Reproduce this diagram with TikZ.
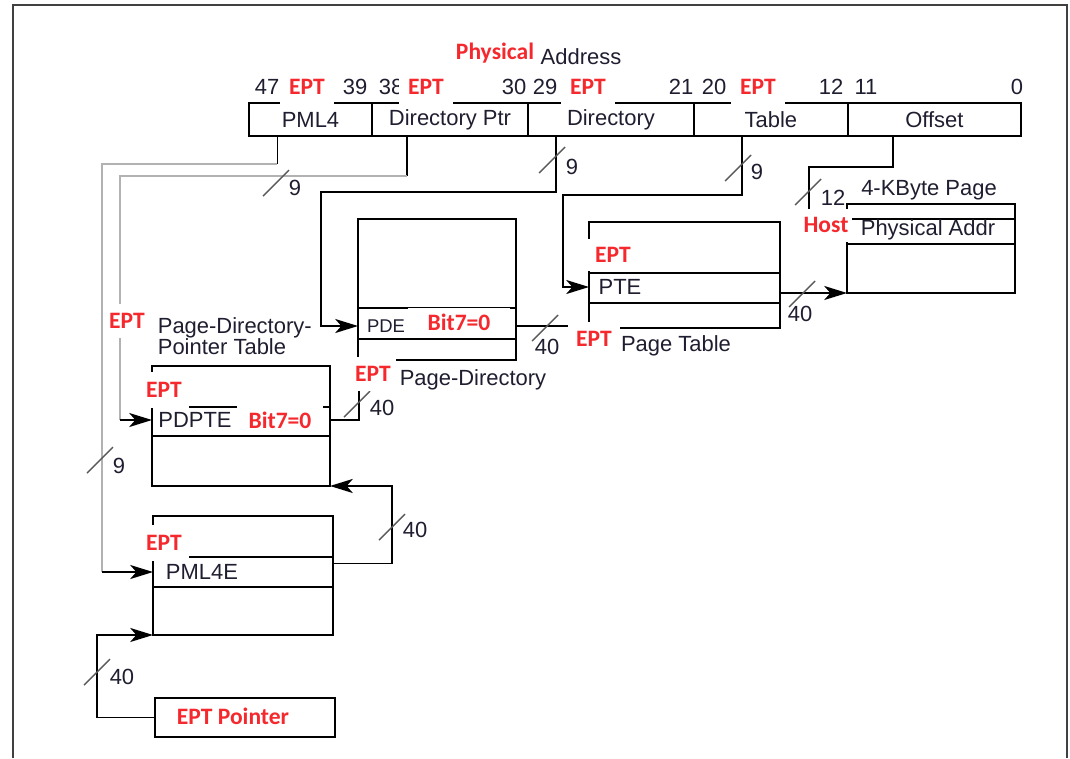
\documentclass[tikz,border=0pt]{standalone}
\usepackage{fontspec}
\setmainfont{Liberation Sans}
\newfontfamily\calibri{Carlito}
\usepackage{tikz}
\usetikzlibrary{arrows.meta,positioning,calc}
\definecolor{eptred}{RGB}{245,40,45}
\definecolor{ink}{RGB}{30,30,48}
\newcommand{\lbl}{\fontsize{12.5}{12}\selectfont}
\newcommand{\eptf}{\calibri\bfseries\fontsize{13.4}{13}\selectfont}

\begin{document}
\begin{tikzpicture}[x=0.02cm, y=-0.02cm, line width=1pt,
    field/.style={draw, minimum height=0.66cm, anchor=north west, inner sep=0, outer sep=0, font=\lbl, text=ink},
    tbl/.style={draw, anchor=north west, inner sep=0, outer sep=0},
    txt/.style={font=\lbl, text=ink, inner sep=0},
    ept/.style={font=\eptf, text=eptred, fill=white, inner sep=0},
    arr/.style={-{Stealth[length=13pt, width=8pt, inset=3.5pt]}},
    faint/.style={gray!60},
    slash/.style={black!65, line width=0.8pt}]

    \useasboundingbox (0,0) rectangle (1070,758);
    % frame
    \draw[black!75, line width=1.2pt] (13,758) -- (13,5) -- (1067,5) -- (1067,758);

    % Physical address fields
    \node[font=\eptf, text=eptred, inner sep=0] (phys) at (495,53) {Physical};
    \node[txt] (addr) at (581,57) {Address};
    \node[field, minimum width=2.46cm] (fpml4) at (249,103) {PML4};
    \node[field, minimum width=3.12cm] (fdptr) at (fpml4.north east) {Directory Ptr};
    \node[field, minimum width=3.32cm] (fdir) at (fdptr.north east) {Directory};
    \node[field, minimum width=3.08cm] (ftbl) at (fdir.north east) {Table};
    \node[field, minimum width=3.46cm] (foff) at (ftbl.north east) {Offset};
    \foreach \b/\px in {47/267, 39/355, 38/391, 30/514, 29/545, 21/681, 20/714, 12/831, 11/866, 0/1017}
        \node[txt] (b\b) at (\px,87) {\b};
    \node[ept, minimum width=1.08cm, minimum height=0.72cm] (e47) at (307,87) {EPT};
    \node[ept, minimum width=1.08cm, minimum height=0.72cm] (e38) at (426,87) {EPT};
    \node[ept, minimum width=1.08cm, minimum height=0.72cm] (e29) at (588,87) {EPT};
    \node[ept, minimum width=1.08cm, minimum height=0.72cm] (e20) at (758,87) {EPT};

    % Tables
    \node[tbl, minimum width=3.36cm, minimum height=1.78cm] (page) at (847,204) {};
    \node[tbl, minimum width=3.82cm, minimum height=2.12cm] (pt) at (589,222) {};
    \node[tbl, minimum width=3.16cm, minimum height=2.82cm] (pd) at (358,219) {};
    \node[tbl, minimum width=3.56cm, minimum height=2.40cm] (pdpt) at (152,366) {};
    \node[tbl, minimum width=3.60cm, minimum height=2.38cm] (pml4t) at (153,516) {};
    \node[tbl, minimum width=3.60cm, minimum height=0.78cm] (eptp) at (155,698) {};
    \foreach \t/\dy in {page/15, page/40, pt/51, pt/81, pd/89, pd/120, pdpt/41, pdpt/70, pml4t/41, pml4t/71}
        \draw ($(\t.north west)+(0,\dy)$) -- ($(\t.north east)+(0,\dy)$);

    % Entries and table names
    \node[txt] (pgname) at (929,190) {4-KByte Page};
    \node[txt] (hpa) at (928,230) {Physical Addr};
    \node[txt] (pte) at (620,287) {PTE};
    \node[txt] (ptname) at (676,346) {Page Table};
    \node[txt, font=\fontsize{10.5}{12}\selectfont] (pde) at (386,326) {PDE};
    \node[txt] (pdname) at (473,380) {Page-Directory};
    \node[txt] (pdpte) at (195,420) {PDPTE};
    \node[txt, align=left, anchor=north west] (pdptname) at (157,317) {Page-Directory-\\Pointer Table};
    \node[txt] (pml4e) at (202,572) {PML4E};
    \node[font=\eptf, text=eptred, inner sep=0] (eptptxt) at (233,716) {EPT Pointer};

    % Connectors from the address fields
    \draw ([xshift=-0.66cm]fpml4.south) -- ++(0,28) coordinate (pmlbend);
    \draw[faint] (pmlbend) -| (102,572) coordinate (pmlin);
    \draw[arr] (pmlin) -- (pml4t.west |- pml4e);
    \draw ([xshift=-0.86cm]fdptr.south) -- ++(0,40) coordinate (dpbend);
    \draw[faint] (dpbend) -| (120,420) coordinate (dpin);
    \draw[arr] (dpin) -- (pdpt.west |- pdpte);
    \draw[arr] ([xshift=-1.1cm]fdir.south) |- (321,192) |- (pd.west |- pde);
    \draw[arr] ([xshift=-0.58cm]ftbl.south) |- (563,195) |- (pt.west |- pte);
    \draw ([xshift=-0.83cm]foff.south) |- (809,167) -- ++(0,50);

    % Connectors between tables
    \draw[arr] (eptp.west) -- ++(-58,0) |- (pml4t.south west);
    \draw[arr] (pml4t.east |- pml4e.north) -- ++(59,0) |- (pdpt.south east);
    \draw (pdpt.east |- pdpte) -- ++(29,0) |- (pd.south west);
    \draw (pd.east |- pde) -- (pt.west |- pde);
    \draw[arr] (pt.east |- page.south west) -- (page.south west);

    % Bus widths
    \draw[slash] (100,460) +(-13,13) -- +(13,-13);
    \node[txt] (w1) at (119,466) {9};
    \draw[slash] (276,183) +(-13,13) -- +(13,-13);
    \node[txt] (w2) at (295,188) {9};
    \draw[slash] (552,160) +(-13,13) -- +(13,-13);
    \node[txt] (w3) at (572,167) {9};
    \draw[slash] (738,168) +(-13,13) -- +(13,-13);
    \node[txt] (w4) at (757,172) {9};
    \draw[slash] (808,192) +(-13,13) -- +(13,-13);
    \node[txt] (w5) at (833,198) {12};
    \draw[slash] (802,294) +(-13,13) -- +(13,-13);
    \node[txt] (w6) at (800,314) {40};
    \draw[slash] (545,328) +(-13,13) -- +(13,-13);
    \node[txt] (w7) at (547,347) {40};
    \draw[slash] (357,404) +(-13,13) -- +(13,-13);
    \node[txt] (w8) at (382,408) {40};
    \draw[slash] (392,527) +(-13,13) -- +(13,-13);
    \node[txt] (w9) at (415,530) {40};
    \draw[slash] (97,672) +(-13,13) -- +(13,-13);
    \node[txt] (w10) at (122,677) {40};

    % EPT annotations (white backs)
    \node[ept, minimum width=1.04cm, minimum height=0.66cm] (host) at (826,225) {Host};
    \node[ept, minimum width=1.16cm, minimum height=0.64cm] (eptpt) at (613,255) {EPT};
    \node[ept, minimum width=1.04cm, minimum height=0.68cm] (eptptl) at (594,339) {EPT};
    \node[ept, minimum width=2.04cm, minimum height=0.58cm] (bitpd) at (459,322.5) {Bit7=0};
    \node[ept, minimum width=0.92cm, minimum height=0.68cm] (eptpd) at (373,374) {EPT};
    \node[ept, minimum width=1.00cm, minimum height=0.72cm] (eptpdpt) at (164,390) {EPT};
    \node[ept, minimum width=1.72cm, minimum height=0.58cm] (bitpdpt) at (280,420.5) {Bit7=0};
    \node[ept, minimum width=0.96cm, minimum height=0.68cm] (eptpdptl) at (127,321) {EPT};
    \node[ept, minimum width=1.00cm, minimum height=0.72cm] (eptpml4) at (164,543) {EPT};
\end{tikzpicture}
\end{document}
